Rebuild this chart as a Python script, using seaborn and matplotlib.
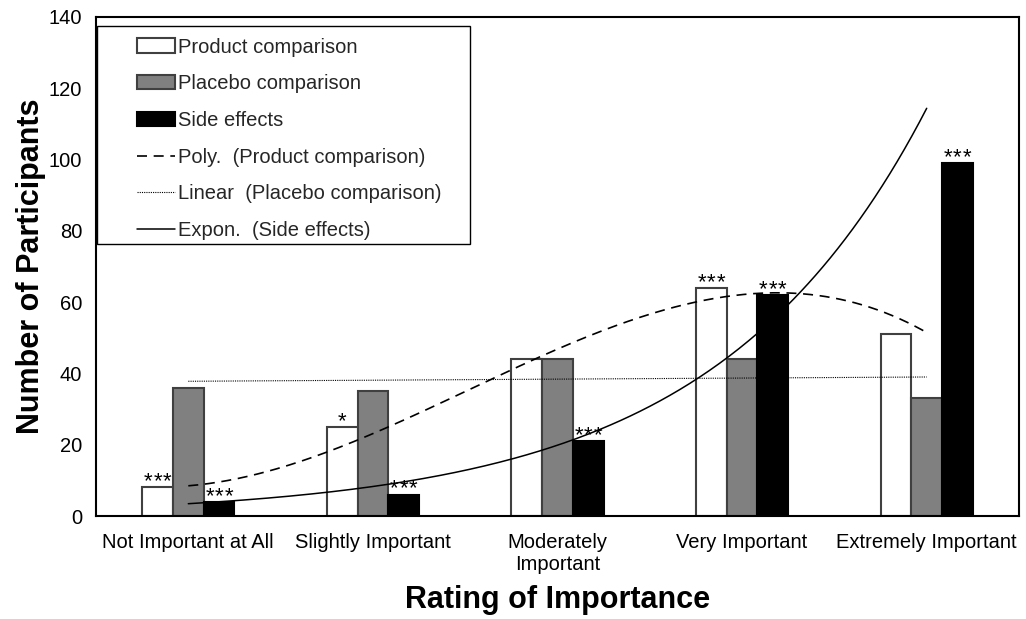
import numpy as np
import pandas as pd
import matplotlib
matplotlib.use("Agg")
import matplotlib.pyplot as plt
import seaborn as sns
from matplotlib.patches import Patch, Rectangle
from matplotlib.lines import Line2D

# ---------------- data ----------------
categories = ["Not Important at All", "Slightly Important", "Moderately\nImportant",
              "Very Important", "Extremely Important"]
series = ["Product comparison", "Placebo comparison", "Side effects"]
product = [8, 25, 44, 64, 51]
placebo = [36, 35, 44, 44, 33]
side = [4, 6, 21, 62, 99]
stars_product = ["***", "*", "", "***", ""]
stars_placebo = ["", "", "", "", ""]
stars_side = ["***", "***", "***", "***", "***"]
legend_labels = ["Product comparison", "Placebo comparison", "Side effects",
                 "Poly.  (Product comparison)", "Linear  (Placebo comparison)",
                 "Expon.  (Side effects)"]
yticks = [0, 20, 40, 60, 80, 100, 120, 140]

# ---------------- style ----------------
sns.set_theme(style="white")
plt.rcParams["font.family"] = ["Liberation Sans", "DejaVu Sans"]

W, H = 1026, 619
fig = plt.figure(figsize=(W / 100, H / 100), dpi=100)
ax = fig.add_axes([96 / W, 103 / H, 923 / W, 499 / H])

df = pd.DataFrame({
    "rating": categories * 3,
    "count": product + placebo + side,
    "series": [series[0]] * 5 + [series[1]] * 5 + [series[2]] * 5,
})
colors = ["white", "#808080", "black"]
edges = ["#404040", "#404040", "black"]

sns.barplot(data=df, x="rating", y="count", hue="series", order=categories,
            hue_order=series, palette=colors, saturation=1, width=0.5, gap=0,
            legend=False, ax=ax, linewidth=1.5, edgecolor="#404040")

STAR_STEP = 9.5  # pixel spacing between asterisks
for cont, ec, stars in zip(ax.containers, edges, [stars_product, stars_placebo, stars_side]):
    for bar, s in zip(cont, stars):
        bar.set_edgecolor(ec)
        n = len(s)
        for i, ch in enumerate(s):
            ax.annotate(ch, (bar.get_x() + bar.get_width() / 2, bar.get_height()),
                        xytext=((i - (n - 1) / 2) * STAR_STEP, 0),
                        textcoords="offset pixels",
                        ha="center", va="baseline", fontsize=16, color="black")

# ---------------- trend lines ----------------
xi = np.arange(len(categories))
xs = np.linspace(0, len(categories) - 1, 300)
poly_fit = np.polyval(np.polyfit(xi, product, 3), xs)
lin_fit = np.polyval(np.polyfit(xi, placebo, 1), xs)
exp_coef = np.polyfit(xi, np.log(side), 1)
exp_fit = np.exp(np.polyval(exp_coef, xs))

ax.plot(xs, poly_fit, color="black", lw=1.2, linestyle=(0, (6, 4)), zorder=5)
ax.plot(xs, lin_fit, color="black", lw=0.8, linestyle=(0, (1, 1)), zorder=5)
ax.plot(xs, exp_fit, color="black", lw=1.1, linestyle="-", zorder=5)

# ---------------- axes ----------------
ax.set_xlim(-0.5, len(categories) - 0.5)
ax.set_ylim(0, 140)
ax.set_yticks(yticks)
ax.tick_params(axis="both", length=0, labelsize=14.5, colors="black")
ax.tick_params(axis="y", pad=10)
ax.tick_params(axis="x", pad=12)
for lab in ax.get_xticklabels():
    lab.set_linespacing(1.2)
for sp in ax.spines.values():
    sp.set_visible(True)
    sp.set_color("black")
    sp.set_linewidth(1.5)

ax.set_xlabel("Rating of Importance", fontsize=22, fontweight="bold", color="black")
ax.set_ylabel("Number of Participants", fontsize=22, fontweight="bold", color="black")
ax.xaxis.label.set_va("center")
ax.yaxis.label.set_va("center")
ax.xaxis.set_label_coords(0.5, (516 - 600) / 498)
ax.yaxis.set_label_coords((31 - 96) / 923, 0.5)

# ---------------- legend ----------------
handles = [
    Patch(facecolor="white", edgecolor="#404040", linewidth=1.5),
    Patch(facecolor="#808080", edgecolor="#404040", linewidth=1.5),
    Patch(facecolor="black", edgecolor="black", linewidth=1.5),
    Line2D([], [], color="black", lw=1.2, linestyle=(0, (6, 4))),
    Line2D([], [], color="black", lw=0.8, linestyle=(0, (1, 1))),
    Line2D([], [], color="black", lw=1.1, linestyle="-"),
]
ax.legend(handles, legend_labels, loc="upper left",
          bbox_to_anchor=((137 - 96) / 923, (516 - 38.5) / 498),
          frameon=False, borderpad=0, borderaxespad=0, fontsize=14.5,
          handlelength=1.9, handleheight=0.7, handletextpad=0.15, labelspacing=0.88)
ax.add_patch(Rectangle(((97 - 96) / 923, (516 - 245) / 498), (470 - 97) / 923,
                       (245 - 27) / 498, transform=ax.transAxes, fill=False,
                       edgecolor="black", linewidth=1.0, zorder=6))

fig.savefig("out.png", dpi=100)
